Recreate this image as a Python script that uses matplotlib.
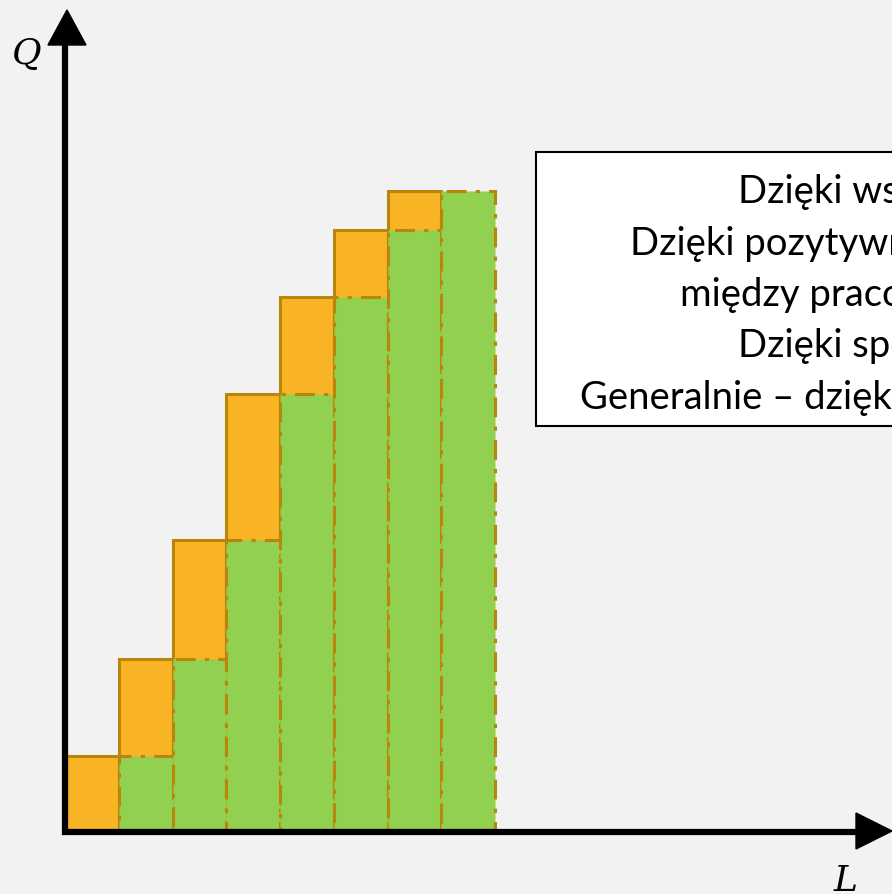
import matplotlib.pyplot as plt
import matplotlib.patches as patches

# output per worker step (orange = actual column, green = previous column shifted)
labels_x = list(range(8))
orange_q = [74, 171, 290, 436, 533, 600, 639]
green_q = [74, 171, 290, 436, 533, 600, 639]

text_lines = [
    "Dzięki wspólnej pracy",
    "Dzięki pozytywnym interakcjom",
    "między pracownikami",
    "Dzięki specjalizacji",
    "Generalnie – dzięki współpracy",
]
text_x = [738, 630, 680, 738, 580]
text_base = [203, 255, 306, 357, 409]

W, H = 892, 895
bg = "#F2F2F2"
orange = "#F8B424"
edge = "#B8860B"
green = "#92D050"

fig = plt.figure(figsize=(W / 100, H / 100), dpi=100, facecolor=bg)
ax = fig.add_axes([0, 0, 1, 1])
ax.set_facecolor(bg)
ax.axis("off")

# 1 unit on x = one column (53.75 px), origin at px 65; y in px above baseline
x0px, colw, base = 65, 53.75, 831
ax.set_xlim(-x0px / colw, (W - x0px) / colw)
ax.set_ylim(-(H - base), base)

ax.bar([i for i in labels_x[:7]], orange_q, width=1, align="edge",
       color=orange, edgecolor=edge, linewidth=2.2, zorder=2)
ax.bar([i + 1 for i in labels_x[:7]], green_q, width=1, align="edge",
       color=green, edgecolor=edge, linewidth=2.2,
       linestyle=(0, (6.5, 3, 1.4, 3)), zorder=3)


def fx(px):
    return px / W


def fy(py):
    return 1 - py / H


# axes with arrows
fig.add_artist(plt.Line2D([fx(65), fx(65)], [fy(836), fy(40)], color="black",
                          lw=4.5, transform=fig.transFigure, solid_capstyle="butt"))
fig.add_artist(patches.Polygon([(fx(48), fy(46)), (fx(86), fy(46)), (fx(67), fy(11))],
                               closed=True, color="black", transform=fig.transFigure))
fig.add_artist(plt.Line2D([fx(62), fx(860)], [fy(833), fy(833)], color="black",
                          lw=4.5, transform=fig.transFigure, solid_capstyle="butt"))
fig.add_artist(patches.Polygon([(fx(856), fy(814)), (fx(856), fy(850)), (fx(892), fy(832))],
                               closed=True, color="black", transform=fig.transFigure))

fig.text(fx(12), fy(64), "Q", fontsize=26, family="DejaVu Serif", style="italic")
fig.text(fx(834), fy(891), "L", fontsize=26, family="DejaVu Serif", style="italic")

# text box (cut by right edge, as in the source slide)
fig.add_artist(patches.Rectangle((fx(536), fy(427)), 0.6, (427 - 153) / H,
                                 facecolor="white", edgecolor="black", lw=1.5,
                                 transform=fig.transFigure, zorder=4))
for t, x, y in zip(text_lines, text_x, text_base):
    fig.text(fx(x), fy(y), t, fontsize=27.5, family="Lato", ha="left",
             va="baseline", zorder=5)

fig.savefig("out.png", dpi=100, facecolor=bg)
